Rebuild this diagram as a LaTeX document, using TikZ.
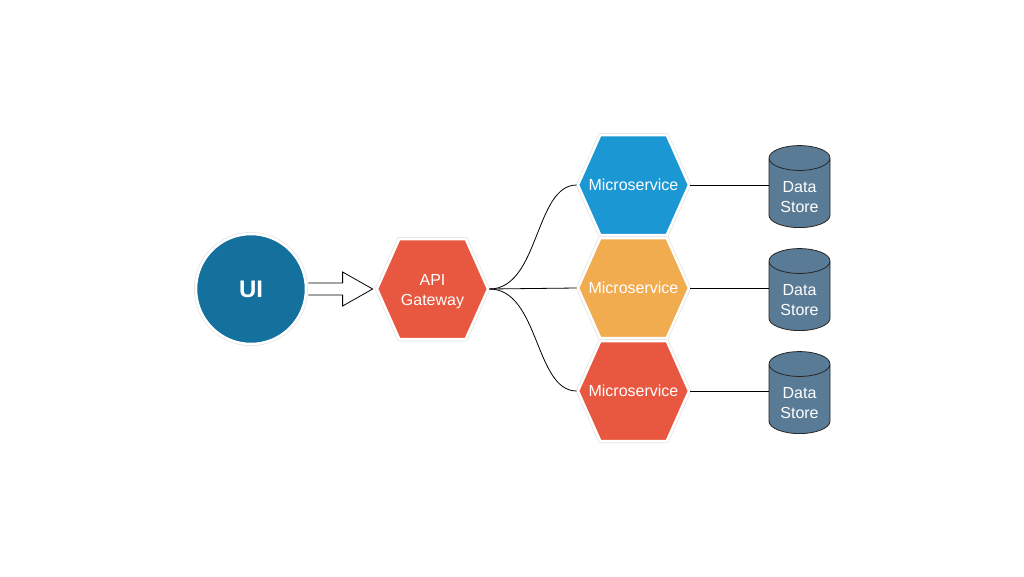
\documentclass[tikz,border=0pt]{standalone}
\usepackage{fontspec}
\setmainfont{Liberation Sans}
\usetikzlibrary{shapes.geometric,shapes.symbols,calc}
\definecolor{uiblue}{HTML}{14719E}
\definecolor{msblue}{HTML}{1B98D4}
\definecolor{msorange}{HTML}{F2AC50}
\definecolor{msred}{HTML}{E8573F}
\definecolor{dsblue}{HTML}{5A7B96}
\newcommand{\hexlabel}[1]{\makebox[50pt][c]{#1}}
\newcommand{\dslabel}{\raisebox{-5pt}[\height][\depth]{\begin{tabular}{@{}c@{}}Data\\Store\end{tabular}}}
\begin{document}
\begin{tikzpicture}[x=1pt,y=-1pt,
  ring/.style={preaction={draw=black!10,line width=4pt},draw=white,line width=2.5pt},
  uinode/.style={circle,ring,fill=uiblue,minimum size=110pt,inner sep=0pt,text=white,
    font=\fontsize{24}{28}\selectfont\bfseries},
  hexnode/.style={signal,signal to=west and east,signal pointer angle=132,
    minimum width=111pt,minimum height=100pt,inner sep=0pt,ring,text=white,align=center,
    font=\fontsize{16}{20}\selectfont},
  dstore/.style={cylinder,shape border rotate=90,aspect=0.65,minimum width=61pt,minimum height=82pt,
    inner sep=0pt,fill=dsblue,draw=black!85,line width=0.8pt,text=white,
    font=\fontsize{16}{20}\selectfont},
  link/.style={draw=black,line width=0.8pt}]
\useasboundingbox (0,0) rectangle (1024,576);
\fill[white] (0,0) rectangle (1024,576);
\node[uinode] (ui) at (251,289) {UI};
\node[hexnode,fill=msred] (gw) at (432.5,289) {\raisebox{-2pt}[\height][\depth]{\begin{tabular}{@{}c@{}}API\\Gateway\end{tabular}}};
\node[hexnode,fill=msblue] (ms1) at (633.5,185) {\hexlabel{Microservice}};
\node[hexnode,fill=msorange] (ms2) at (633.5,288) {\hexlabel{Microservice}};
\node[hexnode,fill=msred] (ms3) at (633.5,391) {\hexlabel{Microservice}};
\node[dstore] (ds1) at (799.5,193) {\dslabel};
\node[dstore] (ds2) at (799.5,296) {\dslabel};
\node[dstore] (ds3) at (799.5,399) {\dslabel};
% double arrow
\draw[fill=white,line width=0.8pt,line join=miter]
  ($(ui.east)+(1,-6)$) -- ($(gw.west)+(-33,-6)$) -- ($(gw.west)+(-33,-17)$) -- ($(gw.west)+(-3,0)$)
  -- ($(gw.west)+(-33,17)$) -- ($(gw.west)+(-33,6)$) -- ($(ui.east)+(1,6)$);
% gateway to services
\draw[link] (gw.east) .. controls ($(gw.east)+(50,0)$) and ($(ms1.west)+(-42,0)$) .. (ms1.west);
\draw[link] (gw.east) -- (ms2.west);
\draw[link] (gw.east) .. controls ($(gw.east)+(50,0)$) and ($(ms3.west)+(-42,0)$) .. (ms3.west);
% services to stores
\draw[link] (ms1.east) -- (ms1.east -| ds1.west);
\draw[link] (ms2.east) -- (ms2.east -| ds2.west);
\draw[link] (ms3.east) -- (ms3.east -| ds3.west);
\end{tikzpicture}
\end{document}
